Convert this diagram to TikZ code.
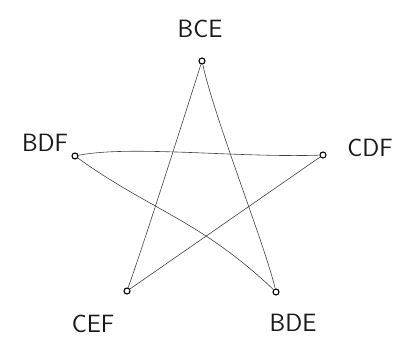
\documentclass[tikz,border=0pt]{standalone}
\begin{document}
\begin{tikzpicture}[x=1pt,y=-1pt,
  vert/.style={circle,draw=black,line width=1.1pt,inner sep=0pt,minimum size=6pt},
  lbl/.style={font=\sffamily\fontsize{25}{25}\selectfont,text=black!90,inner sep=0pt},
  edge/.style={draw=black!75,line width=0.6pt}]
\useasboundingbox (0,0) rectangle (417,348);
\node[vert] (bce) at (202,61) {};
\node[vert] (bdf) at (75,156) {};
\node[vert] (cdf) at (323,155) {};
\node[vert] (cef) at (127,291) {};
\node[vert] (bde) at (276,292) {};
\node[lbl] (lbce) at (200,29) {BCE};
\node[lbl] (lbdf) at (45,143) {BDF};
\node[lbl] (lcdf) at (370,148) {CDF};
\node[lbl] (lcef) at (93,324) {CEF};
\node[lbl] (lbde) at (293,323) {BDE};
\draw[edge] (bce) .. controls (180,130) and (145,240) .. (cef);
\draw[edge] (bce) .. controls (215,120) and (265,245) .. (bde);
\draw[edge] (bdf) .. controls (130,145) and (240,158) .. (cdf);
\draw[edge] (bdf) .. controls (150,210) and (200,220) .. (bde);
\draw[edge] (cdf) -- (cef);
\end{tikzpicture}
\end{document}
